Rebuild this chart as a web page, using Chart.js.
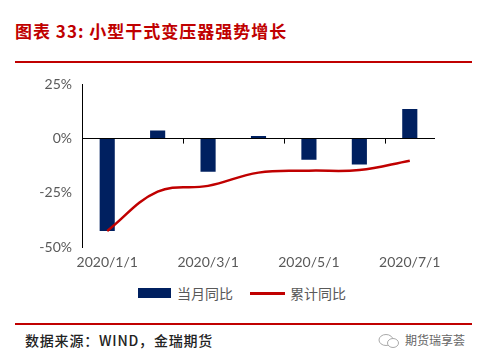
<!DOCTYPE html>
<html>
<head>
<meta charset="utf-8">
<script src="https://cdn.jsdelivr.net/npm/chart.js@4"></script>
<style>
  body { margin: 0; background: #fff; }
  #wrap { position: relative; width: 481px; height: 361px; overflow: hidden; background: #fff; }
  #title { position: absolute; left: 15px; top: 18px; font: bold 17px "Noto Sans CJK SC"; letter-spacing: 1px; color: #c00000; white-space: nowrap; }
  .rule { position: absolute; left: 15px; width: 457px; height: 2px; background: #c00000; }
  #chartBox { position: absolute; left: 0; top: 66px; width: 481px; height: 214px; }
  #legend { position: absolute; top: 283px; left: 0; width: 481px; height: 20px; font: 14px "Noto Sans CJK SC"; color: #595959; }
  #legend span { position: absolute; white-space: nowrap; }
  #source { position: absolute; left: 25px; top: 330px; font: 500 14px "Noto Sans CJK SC"; letter-spacing: 0.8px; color: #222; white-space: nowrap; }
  #mark { position: absolute; left: 405px; top: 331px; font: 12px "Noto Sans CJK SC"; color: #666; white-space: nowrap; }
</style>
</head>
<body>
<div id="wrap">
  <div id="title">图表 33: 小型干式变压器强势增长</div>
  <div class="rule" style="top:61px"></div>
  <div id="chartBox"><canvas id="myChart"></canvas></div>
  <div id="legend">
    <span style="left:138px;top:5px;width:33px;height:10px;background:#002060"></span>
    <span style="left:177px;top:0">当月同比</span>
    <span style="left:250px;top:9px;width:35px;height:3px;background:#c00000"></span>
    <span style="left:290px;top:0">累计同比</span>
  </div>
  <div class="rule" style="top:323px"></div>
  <div id="source">数据来源：WIND，金瑞期货</div>
  <svg style="position:absolute;left:378px;top:333px" width="22" height="16">
    <ellipse cx="8" cy="7" rx="7" ry="5.5" fill="none" stroke="#aaa" stroke-width="1"/>
    <ellipse cx="15" cy="10" rx="5.5" ry="4.5" fill="#fff" stroke="#aaa" stroke-width="1"/>
  </svg>
  <div id="mark">期货瑞享荟</div>
</div>
<script>
var months = ['2020/1/1', '2020/2/1', '2020/3/1', '2020/4/1', '2020/5/1', '2020/6/1', '2020/7/1'];
var monthYoy = [-42.6, 3.7, -15.3, 1.2, -9.7, -11.9, 13.6];
var cumYoy = [-42.6, -24.5, -21.8, -15.7, -14.8, -14.5, -10.2];
var yTicks = [-50, -25, 0, 25];

// small tick marks on the zero line, every two months
var zeroTicks = {
  id: 'zeroTicks',
  afterDatasetsDraw: function(chart) {
    var x = chart.scales.x, y = chart.scales.y;
    var ctx = chart.ctx;
    var y0 = y.getPixelForValue(0);
    ctx.save();
    ctx.strokeStyle = '#000';
    ctx.lineWidth = 1;
    for (var i = 1; i < months.length - 1; i += 2) {
      var px = Math.round((x.getPixelForValue(i) + x.getPixelForValue(i + 1)) / 2) + 0.5;
      ctx.beginPath();
      ctx.moveTo(px, y0);
      ctx.lineTo(px, y0 + 5);
      ctx.stroke();
    }
    ctx.restore();
  }
};

var ctx = document.getElementById('myChart').getContext('2d');
var myChart = new Chart(ctx, {
  type: 'bar',
  data: {
    labels: months,
    datasets: [{
      type: 'line',
      label: '累计同比',
      data: cumYoy,
      borderColor: '#c00000',
      borderWidth: 2.5,
      pointRadius: 0,
      tension: 0.4,
      fill: false,
      order: 0
    }, {
      type: 'bar',
      label: '当月同比',
      data: monthYoy,
      backgroundColor: '#002060',
      categoryPercentage: 1,
      barPercentage: 0.3,
      order: 1
    }]
  },
  options: {
    responsive: true,
    maintainAspectRatio: false,
    animation: false,
    layout: { padding: { left: 0, right: 46, top: 10, bottom: 0 } },
    plugins: { legend: { display: false }, tooltip: { enabled: false } },
    scales: {
      x: {
        grid: { display: false, drawTicks: false },
        border: { display: false },
        ticks: {
          autoSkip: false,
          maxRotation: 0,
          padding: 7,
          color: '#595959',
          font: { family: 'Lato', size: 14 },
          callback: function(v, i) { return i % 2 === 0 ? months[i] : ''; }
        },
        afterFit: function(s) { s.height = 33; }
      },
      y: {
        min: -50,
        max: 25,
        afterBuildTicks: function(s) { s.ticks = yTicks.map(function(v) { return { value: v }; }); },
        grid: {
          drawTicks: false,
          color: function(c) { return c.tick && c.tick.value === 0 ? '#000' : 'rgba(0,0,0,0)'; }
        },
        border: { display: true, color: '#000', width: 1 },
        ticks: {
          padding: 10,
          color: '#595959',
          font: { family: 'Lato', size: 14 },
          callback: function(v) { return v + '%'; }
        },
        afterFit: function(s) { s.width = 82; }
      }
    }
  },
  plugins: [zeroTicks]
});
</script>
</body>
</html>
